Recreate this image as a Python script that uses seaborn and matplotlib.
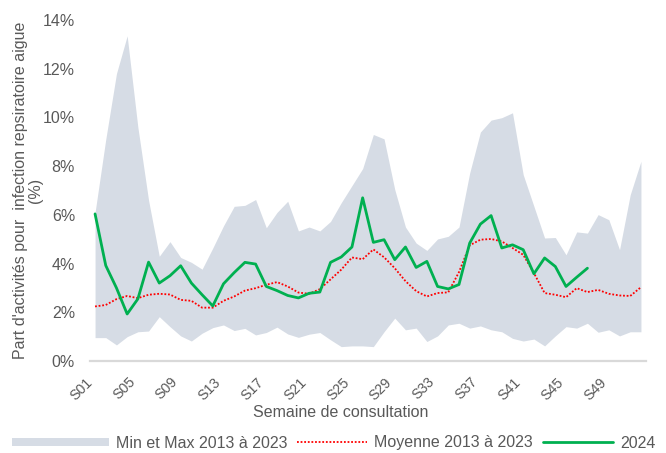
import matplotlib
matplotlib.use("Agg")
import matplotlib.pyplot as plt
import matplotlib.transforms as mtransforms
import seaborn as sns
import pandas as pd
import numpy as np
from matplotlib.patches import Patch, Rectangle
from matplotlib.lines import Line2D
from matplotlib.legend_handler import HandlerPatch
from matplotlib.ticker import FuncFormatter

# ---------------- data ----------------
weeks = list(range(1, 53))

max_2013_2023 = [6.1, 9.1, 11.8, 13.35, 9.6, 6.6, 4.3, 4.9, 4.25, 4.05,
                 3.77, 4.64, 5.55, 6.35, 6.39, 6.63, 5.47, 6.1, 6.56, 5.34,
                 5.5, 5.34, 5.73, 6.5, 7.2, 7.9, 9.3, 9.12, 7.04, 5.5,
                 4.84, 4.54, 5.01, 5.12, 5.5, 7.72, 9.4, 9.89, 9.99, 10.19,
                 7.65, 6.35, 5.05, 5.07, 4.36, 5.3, 5.25, 6.01, 5.8, 4.57,
                 6.83, 8.2]

min_2013_2023 = [0.96, 0.96, 0.66, 1.0, 1.2, 1.23, 1.82, 1.41, 1.03, 0.82,
                 1.14, 1.37, 1.48, 1.25, 1.34, 1.07, 1.17, 1.39, 1.11, 0.97,
                 1.1, 1.17, 0.87, 0.59, 0.62, 0.62, 0.59, 1.2, 1.76, 1.28,
                 1.35, 0.8, 1.03, 1.48, 1.55, 1.35, 1.44, 1.28, 1.2, 0.93,
                 0.82, 0.9, 0.62, 1.03, 1.41, 1.35, 1.55, 1.18, 1.28, 1.03,
                 1.2, 1.2]

mean_2013_2023 = [2.24, 2.3, 2.54, 2.67, 2.58, 2.72, 2.76, 2.73, 2.51, 2.47,
                  2.19, 2.19, 2.47, 2.65, 2.89, 2.99, 3.13, 3.24, 3.06, 2.81,
                  2.76, 2.95, 3.35, 3.75, 4.25, 4.18, 4.58, 4.26, 3.81, 3.28,
                  2.87, 2.65, 2.79, 2.82, 3.65, 4.75, 4.98, 5.01, 4.91, 4.64,
                  4.36, 3.61, 2.79, 2.72, 2.62, 2.99, 2.83, 2.92, 2.76, 2.69,
                  2.67, 3.03]

weeks_2024 = list(range(1, 48))
values_2024 = [6.04, 3.92, 3.0, 1.93, 2.55, 4.06, 3.2, 3.5, 3.91, 3.2,
               2.72, 2.26, 3.17, 3.63, 4.05, 3.98, 3.06, 2.89, 2.69, 2.59,
               2.78, 2.83, 4.05, 4.27, 4.68, 6.7, 4.87, 4.98, 4.16, 4.68,
               3.84, 4.09, 3.06, 2.96, 3.14, 4.84, 5.62, 5.97, 4.64, 4.77,
               4.57, 3.58, 4.23, 3.88, 3.06, 3.44, 3.81]

tick_weeks = [1, 5, 9, 13, 17, 21, 25, 29, 33, 37, 41, 45, 49]
tick_labels = ["S01", "S05", "S09", "S13", "S17", "S21", "S25",
               "S29", "S33", "S37", "S41", "S45", "S49"]
y_ticks = [0, 2, 4, 6, 8, 10, 12, 14]

legend_labels = ["Min et Max 2013 à 2023", "Moyenne 2013 à 2023", "2024"]

# ---------------- style ----------------
sns.set_theme(style="white")
plt.rcParams["font.family"] = ["Liberation Sans", "DejaVu Sans"]
TXT = "#595959"
FILL = "#D6DCE5"
RED = "#FF0000"
GREEN = "#00B050"
FS = 11.5

df_hist = pd.DataFrame({"week": weeks, "min": min_2013_2023,
                        "max": max_2013_2023, "mean": mean_2013_2023})
df_2024 = pd.DataFrame({"week": weeks_2024, "value": values_2024})

W, H = 666, 453
fig = plt.figure(figsize=(W / 100, H / 100), dpi=100)
ax = fig.add_axes([89.7 / W, 92 / H, 556.6 / W, 341 / H])

ax.fill_between(df_hist["week"], df_hist["min"], df_hist["max"],
                color=FILL, linewidth=0, zorder=1)
sns.lineplot(data=df_hist, x="week", y="mean", ax=ax, color=RED,
             linewidth=1.3, linestyle=(0, (1, 1)), zorder=2)
sns.lineplot(data=df_2024, x="week", y="value", ax=ax, color=GREEN,
             linewidth=2.0, zorder=3)

ax.set_xlim(0.5, 52.5)
ax.set_ylim(0, 14)
ax.set_xticks(tick_weeks)
ax.set_xticklabels(tick_labels, rotation=45, ha="right", va="top",
                   fontsize=10.2)
shift = mtransforms.ScaledTranslation(3 / 100, 0, fig.dpi_scale_trans)
for lab in ax.get_xticklabels():
    lab.set_transform(lab.get_transform() + shift)
ax.set_yticks(y_ticks)
ax.yaxis.set_major_formatter(FuncFormatter(lambda v, p: f"{v:.0f}%"))
ax.tick_params(axis="both", length=0, labelcolor=TXT)
ax.tick_params(axis="y", labelsize=FS, pad=10.5)
ax.tick_params(axis="x", pad=10)

for s in ["top", "right", "left"]:
    ax.spines[s].set_visible(False)
ax.spines["bottom"].set_color("#D9D9D9")
ax.spines["bottom"].set_linewidth(1.6)
ax.grid(False)

ax.set_xlabel("Semaine de consultation", fontsize=FS, color=TXT)
ax.xaxis.set_label_coords(0.4504, -0.128)
ax.set_ylabel("Part d'activités pour  infection repsiratoire aigue\n(%)",
              fontsize=FS, color=TXT, multialignment="center",
              linespacing=1.0)
ax.yaxis.set_label_coords(-0.084, 0.5)


class WidePatchHandler(HandlerPatch):
    def create_artists(self, legend, orig_handle, xdescent, ydescent,
                       width, height, fontsize, trans):
        extra = 19.0
        ph = 6.0
        p = Rectangle((-xdescent - extra, -ydescent + (height - ph) / 2),
                      width + extra, ph, facecolor=orig_handle.get_facecolor(),
                      edgecolor="none", transform=trans)
        return [p]


handles = [Patch(facecolor=FILL, edgecolor="none"),
           Line2D([], [], color=RED, linewidth=1.3, linestyle=(0, (1, 1))),
           Line2D([], [], color=GREEN, linewidth=2.0)]
leg = fig.legend(handles, legend_labels, loc="center", ncol=3,
                 bbox_to_anchor=(0.521, 1 - 443 / H), frameon=False,
                 fontsize=FS, handlelength=4.4, handletextpad=0.45,
                 columnspacing=0.6,
                 handler_map={Patch: WidePatchHandler()})
for t in leg.get_texts():
    t.set_color(TXT)

fig.savefig("out.png", dpi=100)
